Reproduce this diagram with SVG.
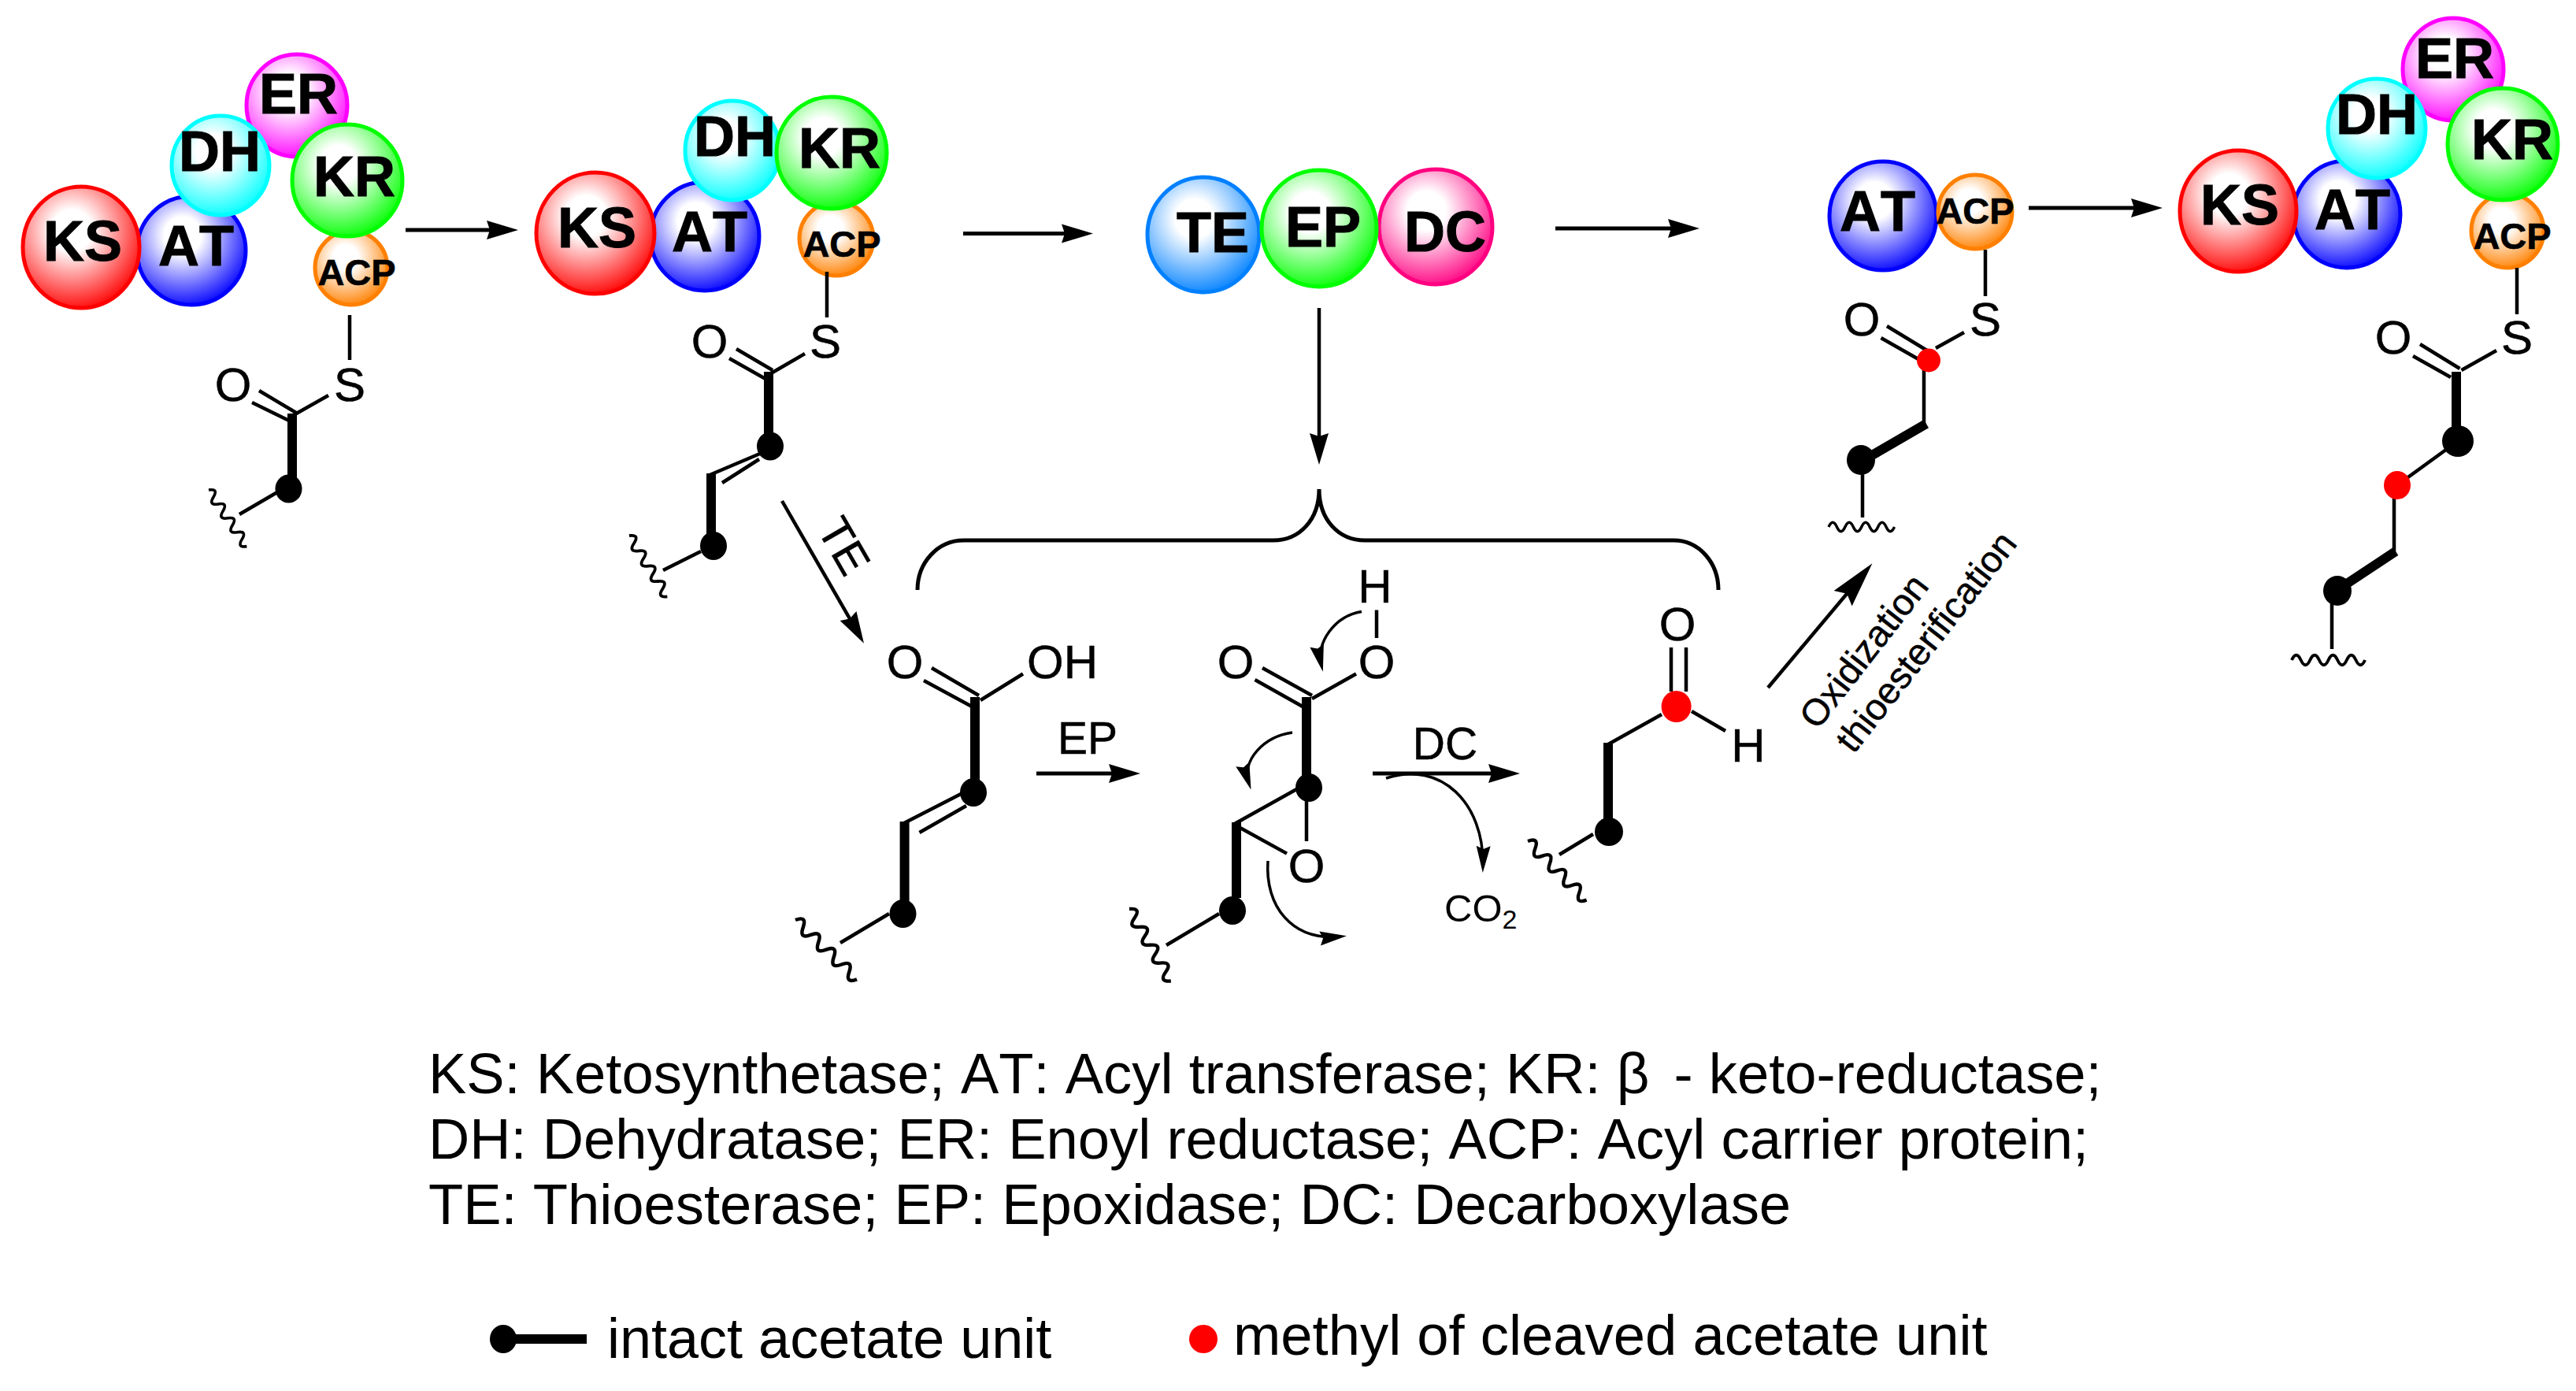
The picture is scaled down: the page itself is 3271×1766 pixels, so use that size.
<svg xmlns="http://www.w3.org/2000/svg" xmlns:xlink="http://www.w3.org/1999/xlink" width="3271" height="1766" viewBox="0 0 3271 1766">
<style>
text{font-family:"Liberation Sans",Arial,sans-serif;fill:#000;font-kerning:none}
.k{font-size:72px;font-weight:700;text-anchor:middle;stroke:#000;stroke-width:1}
.a{font-size:47px;font-weight:700;text-anchor:middle;stroke:#000;stroke-width:.6}
.c{font-size:60px;text-anchor:middle;stroke:#000;stroke-width:.5}
.m{font-size:57px;text-anchor:middle;stroke:#000;stroke-width:.5}
.l{font-size:72.400px}
.b{stroke:#000;stroke-width:4.500;fill:none}
.t{stroke:#000;stroke-width:12;fill:none}
.w{stroke:#000;stroke-width:4;fill:none}
.r{stroke:#000;stroke-width:5;fill:none}
.rb{marker-end:url(#hd)}
.rs{stroke:#000;stroke-width:3.500;fill:none;marker-end:url(#hs)}
.ring{stroke-width:5}
.dk{fill:#000}
.rd{fill:#f00}
</style>
<defs>
<radialGradient id="gKS" cx=".42" cy=".36" r=".68"><stop offset="0" stop-color="#fff"/><stop offset=".25" stop-color="#fff"/><stop offset="1" stop-color="#f00"/></radialGradient>
<radialGradient id="gAT" cx=".42" cy=".36" r=".68"><stop offset="0" stop-color="#fff"/><stop offset=".25" stop-color="#fff"/><stop offset="1" stop-color="#00f"/></radialGradient>
<radialGradient id="gDH" cx=".42" cy=".36" r=".68"><stop offset="0" stop-color="#fff"/><stop offset=".25" stop-color="#fff"/><stop offset="1" stop-color="#0ff"/></radialGradient>
<radialGradient id="gER" cx=".42" cy=".36" r=".68"><stop offset="0" stop-color="#fff"/><stop offset=".25" stop-color="#fff"/><stop offset="1" stop-color="#f0f"/></radialGradient>
<radialGradient id="gKR" cx=".42" cy=".36" r=".68"><stop offset="0" stop-color="#fff"/><stop offset=".25" stop-color="#fff"/><stop offset="1" stop-color="#0f0"/></radialGradient>
<radialGradient id="gACP" cx=".42" cy=".36" r=".68"><stop offset="0" stop-color="#fff"/><stop offset=".25" stop-color="#fff"/><stop offset="1" stop-color="#ff8000"/></radialGradient>
<radialGradient id="gTE" cx=".42" cy=".36" r=".68"><stop offset="0" stop-color="#fff"/><stop offset=".25" stop-color="#fff"/><stop offset="1" stop-color="#0080ff"/></radialGradient>
<radialGradient id="gDC" cx=".42" cy=".36" r=".68"><stop offset="0" stop-color="#fff"/><stop offset=".25" stop-color="#fff"/><stop offset="1" stop-color="#ff0080"/></radialGradient>
<marker id="hd" markerUnits="userSpaceOnUse" markerWidth="42" markerHeight="26" viewBox="0 0 42 26" refX="30" refY="13" orient="auto"><path d="M0 1L40 13L0 25L4 13z"/></marker>
<marker id="hs" markerUnits="userSpaceOnUse" markerWidth="36" markerHeight="20" viewBox="0 0 36 20" refX="26" refY="10" orient="auto"><path d="M0 1L34 10L0 19L4 10z"/></marker>
<marker id="hl" markerUnits="userSpaceOnUse" markerWidth="60" markerHeight="34" viewBox="0 0 60 34" refX="48" refY="17" orient="auto"><path d="M0 2L58 17L0 32L8 17z"/></marker>
<path id="wv" class="w" d="M0 0q6 -13 12 0t12 0t12 0t12 0t12 0t12 0t12 0t12 0"/>
</defs>
<rect width="3271" height="1766" fill="#fff"/>

<g id="pks-1">
<g id="p1-AT"><ellipse class="ring" cx="243" cy="318" rx="69" ry="69" fill="url(#gAT)" stroke="#00f"/><text class="k" x="249" y="337">AT</text></g>
<g id="p1-KS"><ellipse class="ring" cx="103" cy="314" rx="74" ry="77" fill="url(#gKS)" stroke="#f00"/><text class="k" x="105" y="331">KS</text></g>
<g id="p1-ER"><ellipse class="ring" cx="377" cy="134" rx="64" ry="65" fill="url(#gER)" stroke="#f0f"/><text class="k" x="379" y="144">ER</text></g>
<g id="p1-DH"><ellipse class="ring" cx="280" cy="210" rx="62" ry="63" fill="url(#gDH)" stroke="#0ff"/><text class="k" x="279" y="217">DH</text></g>
<g id="p1-ACP"><ellipse class="ring" cx="446" cy="340" rx="46" ry="47" fill="url(#gACP)" stroke="#ff8000"/><text class="a" x="453" y="362">ACP</text></g>
<g id="p1-KR"><ellipse class="ring" cx="441" cy="229" rx="70" ry="71" fill="url(#gKR)" stroke="#0f0"/><text class="k" x="450" y="249">KR</text></g>
</g>
<g id="mol-1">
<path class="b" d="M444 400V457M329 496L376 524M320 511L367 534M371 528L417 502M304 653L352 625"/>
<path class="t" d="M371 525V610"/>
<ellipse class="dk" cx="366.500" cy="620.500" rx="17" ry="18"/>
<use href="#wv" transform="translate(265 622) rotate(56) scale(.9)"/>
<text class="c" x="444" y="509">S</text><text class="c" x="296" y="509">O</text>
</g>

<g id="pks-2">
<g id="p2-AT"><ellipse class="ring" cx="895" cy="300" rx="69" ry="69" fill="url(#gAT)" stroke="#00f"/><text class="k" x="901" y="319">AT</text></g>
<g id="p2-KS"><ellipse class="ring" cx="756" cy="296" rx="75" ry="77" fill="url(#gKS)" stroke="#f00"/><text class="k" x="758" y="314">KS</text></g>
<g id="p2-DH"><ellipse class="ring" cx="930" cy="191" rx="60" ry="63" fill="url(#gDH)" stroke="#0ff"/><text class="k" x="933" y="198">DH</text></g>
<g id="p2-ACP"><ellipse class="ring" cx="1062" cy="303" rx="47" ry="47" fill="url(#gACP)" stroke="#ff8000"/><text class="a" x="1069" y="326">ACP</text></g>
<g id="p2-KR"><ellipse class="ring" cx="1056" cy="194" rx="70" ry="71" fill="url(#gKR)" stroke="#0f0"/><text class="k" x="1066" y="213">KR</text></g>
</g>
<g id="mol-2">
<path class="b" d="M1050 345V403M935 443L981 470M926 455L972 481M979 474L1022 449M979 570L900 603.500M964 583L917 613M842 724L890 700"/>
<path class="t" d="M976 472V563M903 601V693"/>
<ellipse class="dk" cx="978" cy="566.500" rx="17" ry="18"/>
<ellipse class="dk" cx="906" cy="693" rx="17" ry="18"/>
<use href="#wv" transform="translate(799 680) rotate(58) scale(.95)"/>
<text class="c" x="1048" y="454">S</text><text class="c" x="901" y="454">O</text>
</g>

<g id="offload-complex">
<g id="TE"><ellipse class="ring" cx="1528" cy="298" rx="71" ry="73" fill="url(#gTE)" stroke="#0080ff"/><text class="k" x="1540" y="320">TE</text></g>
<g id="DC"><ellipse class="ring" cx="1823" cy="288" rx="72" ry="73" fill="url(#gDC)" stroke="#ff0080"/><text class="k" x="1835" y="319">DC</text></g>
<g id="EP"><ellipse class="ring" cx="1675" cy="290" rx="73" ry="74" fill="url(#gKR)" stroke="#0f0"/><text class="k" x="1680" y="313">EP</text></g>
</g>

<g id="pks-3">
<g id="p3-AT"><ellipse class="ring" cx="2391" cy="274" rx="68" ry="69" fill="url(#gAT)" stroke="#00f"/><text class="k" x="2384" y="293">AT</text></g>
<g id="p3-ACP"><ellipse class="ring" cx="2508" cy="269" rx="47" ry="47" fill="url(#gACP)" stroke="#ff8000"/><text class="a" x="2508" y="284">ACP</text></g>
</g>
<g id="mol-3">
<path class="b" d="M2521 317V376M2396 414L2447 445M2388.500 429L2436 456M2458 442L2494 422M2443 457V540M2365 584V657"/>
<path class="t" d="M2446 538L2365 585"/>
<ellipse class="rd" cx="2449" cy="457.500" rx="15" ry="15"/>
<ellipse class="dk" cx="2363" cy="584" rx="18" ry="19"/>
<use href="#wv" transform="translate(2322 669) scale(.87)"/>
<text class="c" x="2521" y="426">S</text><text class="c" x="2364" y="426">O</text>
</g>

<g id="pks-4">
<g id="p4-AT"><ellipse class="ring" cx="2980" cy="272" rx="68" ry="68" fill="url(#gAT)" stroke="#00f"/><text class="k" x="2987" y="291">AT</text></g>
<g id="p4-KS"><ellipse class="ring" cx="2842" cy="268" rx="74" ry="77" fill="url(#gKS)" stroke="#f00"/><text class="k" x="2844" y="285">KS</text></g>
<g id="p4-ER"><ellipse class="ring" cx="3115" cy="88" rx="64" ry="65" fill="url(#gER)" stroke="#f0f"/><text class="k" x="3117" y="99">ER</text></g>
<g id="p4-DH"><ellipse class="ring" cx="3018" cy="163" rx="62" ry="63" fill="url(#gDH)" stroke="#0ff"/><text class="k" x="3018" y="170">DH</text></g>
<g id="p4-ACP"><ellipse class="ring" cx="3184" cy="293" rx="46" ry="47" fill="url(#gACP)" stroke="#ff8000"/><text class="a" x="3190" y="316">ACP</text></g>
<g id="p4-KR"><ellipse class="ring" cx="3178" cy="183" rx="70" ry="71" fill="url(#gKR)" stroke="#0f0"/><text class="k" x="3190" y="202">KR</text></g>
</g>
<g id="mol-4">
<path class="b" d="M3196 340V399M3073 437L3123.500 468M3064 452L3112 479M3125.500 470L3170 445M3121 560L3044 616M3040 616V703M2961 750V824"/>
<path class="t" d="M3119 472V560M3042 700L2968 749"/>
<ellipse class="dk" cx="3121" cy="560" rx="20" ry="20"/>
<ellipse class="rd" cx="3044" cy="616" rx="17" ry="18"/>
<ellipse class="dk" cx="2968" cy="750" rx="18" ry="19"/>
<use href="#wv" transform="translate(2910 838) scale(.97)"/>
<text class="c" x="3196" y="449">S</text><text class="c" x="3039" y="449">O</text>
</g>

<g id="mol-acid">
<path class="b" d="M1183 848L1243 883M1173 864L1234 897M1245 889L1299 855.500M1224 1006L1148 1045M1227 1023L1167.500 1057M1129 1160L1067 1197"/>
<path class="t" d="M1238 885V998M1148.600 1043V1156"/>
<ellipse class="dk" cx="1236" cy="1006" rx="17" ry="18"/>
<ellipse class="dk" cx="1146.500" cy="1160" rx="17" ry="18"/>
<use href="#wv" transform="translate(1010 1168) rotate(44) scale(1.13)"/>
<text class="c" x="1149" y="861">O</text><text class="c" x="1349" y="861">OH</text>
</g>

<g id="mol-epoxide">
<path class="b" d="M1748 774.500V810M1603 848L1666 883M1593.500 863L1654 897M1666 887L1722 855.500M1659 1000V1068M1650 1000L1567.500 1046M1567.500 1047L1634 1083.600M1548 1160L1481 1200"/>
<path class="t" d="M1659 885V990M1570 1044V1140"/>
<ellipse class="dk" cx="1662" cy="1000" rx="17" ry="18"/>
<ellipse class="dk" cx="1565" cy="1156" rx="17" ry="18"/>
<use href="#wv" transform="translate(1434 1154) rotate(60) scale(1.1)"/>
<text class="c" x="1746" y="765">H</text><text class="c" x="1569" y="861">O</text><text class="c" x="1748" y="861">O</text><text class="c" x="1659" y="1120">O</text>
<path class="rs" d="M1729 776.500C1695 782 1671 815 1678 845"/>
<path class="rs" d="M1641 930C1605 935 1576 965 1586 995"/>
<path class="rs" d="M1610 1093C1606 1150 1640 1195 1702 1189"/>
</g>

<g id="mol-aldehyde">
<path class="b" d="M2122 822V878M2141 822V878M2148 903L2191 928M2110 907L2042 945M2023 1059L1980 1085"/>
<path class="t" d="M2042 943V1040"/>
<ellipse class="rd" cx="2128.600" cy="897" rx="19" ry="20"/>
<ellipse class="dk" cx="2043" cy="1056" rx="18" ry="18"/>
<use href="#wv" transform="translate(1940 1068) rotate(45) scale(1.1)"/>
<text class="c" x="2130" y="813">O</text><text class="c" x="2220" y="967">H</text>
</g>

<g id="connectors">
<path class="r rb" d="M515 292H648"/>
<path class="r rb" d="M1223 296.500H1378"/>
<path class="r rb" d="M1975 290H2148"/>
<path class="r rb" d="M2576 264H2736"/>
<path class="b" style="marker-end:url(#hd)" d="M1675 391V580"/>
<path class="b" style="marker-end:url(#hd)" d="M993 636L1092 808"/>
<path class="r" d="M1165 749C1165 715 1190 686 1224 686H1617C1650 686 1675 660 1675 621C1675 660 1700 686 1733 686H2125C2158 686 2182 715 2182 749"/>
<path class="r rb" d="M1316 982H1438"/>
<path class="r rb" d="M1743 982H1920"/>
<path class="rs" d="M1760 988C1830 965 1885 1020 1883 1100"/>
<path class="b" style="marker-end:url(#hl)" d="M2245 873L2371 723"/>
</g>

<g id="reaction-labels">
<text class="m" transform="translate(1072 693) rotate(60)" y="20">TE</text>
<text class="m" x="1381" y="957">EP</text>
<text class="m" x="1835" y="964">DC</text>
<text style="font-size:49px" x="1834" y="1170">CO<tspan style="font-size:34px" dy="9">2</tspan></text>
<text style="font-size:47px;text-anchor:middle;stroke:#000;stroke-width:.5" transform="translate(2366 826) rotate(-52)" y="17">Oxidization</text>
<text style="font-size:47px;text-anchor:middle;stroke:#000;stroke-width:.5" transform="translate(2445 814) rotate(-52)" y="17">thioesterification</text>
</g>

<g id="legend">
<text class="l" x="544" y="1388">KS: Ketosynthetase; AT: Acyl transferase; KR: β <tspan dx="11">- keto-reductase;</tspan></text>
<text class="l" x="544" y="1471">DH: Dehydratase; ER: Enoyl reductase; ACP: Acyl carrier protein;</text>
<text class="l" x="544" y="1554">TE: Thioesterase; EP: Epoxidase; DC: Decarboxylase</text>
<ellipse class="dk" cx="639" cy="1700" rx="17" ry="18"/>
<path class="t" d="M640 1700H745"/>
<text style="font-size:72px" x="771" y="1724">intact acetate unit</text>
<ellipse class="rd" cx="1528" cy="1700" rx="18" ry="18"/>
<text style="font-size:72.400px" x="1566" y="1720">methyl of cleaved acetate unit</text>
</g>
</svg>
